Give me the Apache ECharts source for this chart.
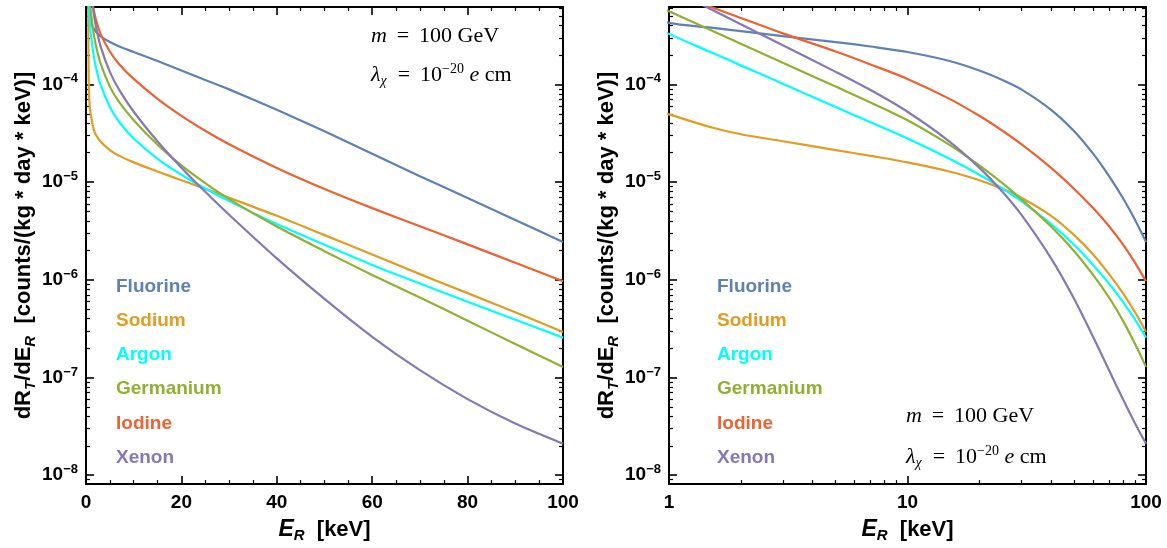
<!DOCTYPE html>
<html>
<head>
<meta charset="utf-8">
<script src="https://cdn.jsdelivr.net/npm/echarts@6/dist/echarts.min.js"></script>
<style>html,body{margin:0;padding:0;background:#fff}#c{width:1167px;height:548px}</style>
</head>
<body>
<div id="c"></div>
<script>
// ---------------- data (recoil energy in keV, rate in counts/(kg*day*keV)) ----------------
const energies = [0.4, 0.5, 0.6, 0.8, 1, 1.5, 2, 3, 5, 7, 10, 15, 20, 25, 30, 40, 50, 60, 70, 80, 90, 100];
const fluorine  = [1.89e-3, 1.18e-3, 7.37e-4, 5.18e-4, 4.262e-4, 3.816e-4, 3.515e-4, 3.125e-4, 2.714e-4, 2.442e-4, 2.146e-4, 1.737e-4, 1.389e-4, 1.111e-4, 8.893e-5, 5.491e-5, 3.314e-5, 1.953e-5, 1.151e-5, 6.866e-6, 4.095e-6, 2.442e-6];
const sodium    = [3.02e-3, 3.24e-4, 8.89e-5, 5.82e-5, 4.94e-5, 3.64e-5, 3.09e-5, 2.621e-5, 2.127e-5, 1.855e-5, 1.592e-5, 1.283e-5, 1.045e-5, 8.523e-6, 6.915e-6, 4.520e-6, 2.865e-6, 1.816e-6, 1.143e-6, 7.299e-7, 4.647e-7, 2.926e-7];
const argon     = [1.886e-3, 9.32e-4, 6.551e-4, 4.394e-4, 3.291e-4, 2.131e-4, 1.566e-4, 1.014e-4, 5.867e-5, 4.095e-5, 2.792e-5, 1.733e-5, 1.190e-5, 8.604e-6, 6.384e-6, 3.718e-6, 2.282e-6, 1.419e-6, 9.146e-7, 5.950e-7, 3.906e-7, 2.559e-7];
const germanium = [1.537e-3, 1.201e-3, 9.837e-4, 7.164e-4, 5.597e-4, 3.582e-4, 2.608e-4, 1.669e-4, 9.496e-5, 6.535e-5, 4.301e-5, 2.408e-5, 1.484e-5, 9.745e-6, 6.691e-6, 3.506e-6, 1.963e-6, 1.122e-6, 6.583e-7, 3.816e-7, 2.197e-7, 1.283e-7];
const iodine    = [2.023e-3, 1.665e-3, 1.413e-3, 1.091e-3, 8.933e-4, 6.206e-4, 4.793e-4, 3.330e-4, 2.172e-4, 1.600e-4, 1.138e-4, 7.113e-5, 4.770e-5, 3.353e-5, 2.442e-5, 1.396e-5, 8.503e-6, 5.415e-6, 3.531e-6, 2.303e-6, 1.491e-6, 9.654e-7];
const xenon     = [2.945e-3, 2.249e-3, 1.799e-3, 1.265e-3, 9.631e-4, 5.868e-4, 4.124e-4, 2.512e-4, 1.344e-4, 8.748e-5, 5.252e-5, 2.602e-5, 1.406e-5, 7.961e-6, 4.638e-6, 1.657e-6, 6.370e-7, 2.608e-7, 1.187e-7, 6.006e-8, 3.378e-8, 2.101e-8];

const elementNames = ['Fluorine', 'Sodium', 'Argon', 'Germanium', 'Iodine', 'Xenon'];
const elementData  = [fluorine, sodium, argon, germanium, iodine, xenon];
const elementColors = ['#5E81B5', '#E19C24', '#00FFFF', '#8FB032', '#EB6235', '#8778B3'];

// ---------------- ticks ----------------
const yMajorTicks = [1e-8, 1e-7, 1e-6, 1e-5, 1e-4];
const yMinorMantissas = [2, 3, 4, 5, 6, 7, 8, 9];
const yDecades = [1e-9, 1e-8, 1e-7, 1e-6, 1e-5, 1e-4];
const xLinTicks = [0, 20, 40, 60, 80, 100];
const xLogMajorTicks = [1, 10, 100];
const xLogMinorTicks = [2, 3, 4, 5, 6, 7, 8, 9, 20, 30, 40, 50, 60, 70, 80, 90];

const Y_MIN = 8.1e-9, Y_MAX = 6.2e-4;
const yMinorTicks = [];
yDecades.forEach(d => yMinorMantissas.forEach(m => {
  const v = m * d;
  if (v > Y_MIN && v < Y_MAX) yMinorTicks.push(v);
}));

const FONT = "'Liberation Sans', Arial, Helvetica, sans-serif";
const SERIF = "'Liberation Serif', 'Times New Roman', Times, serif";
const BLACK = '#000';

// ---------------- axes ----------------
function yAxisDef(grid, pos, major, withLabel, withName) {
  return {
    type: 'log', logBase: 10, gridIndex: grid, position: pos, min: Y_MIN, max: Y_MAX,
    axisLine: { show: major, onZero: false, lineStyle: { color: BLACK, width: 2 } },
    axisTick: { show: true, inside: true, length: major ? 8 : 4,
      customValues: major ? yMajorTicks : yMinorTicks,
      lineStyle: { color: BLACK, width: major ? 1.6 : 1.2 } },
    minorTick: { show: false },
    splitLine: { show: false },
    axisLabel: {
      show: withLabel, customValues: yMajorTicks, margin: 8,
      formatter: v => {
        const e = Math.round(Math.log10(v));
        return '{b|10}{s|' + (e < 0 ? '\u2212' : '') + Math.abs(e) + '}';
      },
      rich: {
        b: { fontSize: 19, fontWeight: 'bold', fontFamily: FONT, color: BLACK, lineHeight: 24 },
        s: { fontSize: 13, fontWeight: 'bold', fontFamily: FONT, color: BLACK, lineHeight: 13, verticalAlign: 'top' }
      }
    },
    name: withName ? 'dR{sub|T}/dE{sub|R}  [counts/(kg * day * keV)]' : '',
    nameLocation: 'middle', nameRotate: 90, nameGap: 42,
    nameTextStyle: {
      fontSize: 22, fontWeight: 'bold', fontFamily: FONT, color: BLACK, lineHeight: 28,
      rich: { sub: { fontSize: 15, fontWeight: 'bold', fontStyle: 'italic', fontFamily: FONT, color: BLACK, lineHeight: 15, verticalAlign: 'bottom' } }
    }
  };
}

const xNameStyle = {
  fontSize: 22, fontWeight: 'bold', fontFamily: FONT, color: BLACK, lineHeight: 26,
  rich: {
    e: { fontSize: 23, fontWeight: 'bold', fontStyle: 'italic', fontFamily: FONT, color: BLACK, lineHeight: 26 },
    r: { fontSize: 15, fontWeight: 'bold', fontStyle: 'italic', fontFamily: FONT, color: BLACK, lineHeight: 15, verticalAlign: 'bottom' }
  }
};
const xName = '{e|E}{r|R}  [keV]';
const xLabelStyle = { fontSize: 19, fontWeight: 'bold', fontFamily: FONT, color: BLACK, margin: 9 };

function xLinDef(pos, withLabel) {
  return {
    type: 'value', gridIndex: 0, position: pos, min: xLinTicks[0], max: xLinTicks[xLinTicks.length - 1], interval: 20,
    axisLine: { show: true, onZero: false, lineStyle: { color: BLACK, width: 2 } },
    axisTick: { show: true, inside: true, length: 8, lineStyle: { color: BLACK, width: 1.6 } },
    minorTick: { show: true, splitNumber: 4, length: 4, lineStyle: { color: BLACK, width: 1.2 } },
    splitLine: { show: false }, minorSplitLine: { show: false },
    axisLabel: Object.assign({ show: withLabel }, xLabelStyle),
    name: withLabel ? xName : '', nameLocation: 'middle', nameGap: 32, nameTextStyle: xNameStyle
  };
}
function xLogDef(pos, major, withLabel) {
  return {
    type: 'log', logBase: 10, gridIndex: 1, position: pos, min: 1, max: 100,
    axisLine: { show: major, onZero: false, lineStyle: { color: BLACK, width: 2 } },
    axisTick: { show: true, inside: true, length: major ? 8 : 4,
      customValues: major ? xLogMajorTicks : xLogMinorTicks,
      lineStyle: { color: BLACK, width: major ? 1.6 : 1.2 } },
    minorTick: { show: false }, splitLine: { show: false },
    axisLabel: Object.assign({ show: withLabel, customValues: xLogMajorTicks, formatter: v => String(Math.round(v)) }, xLabelStyle),
    name: withLabel ? xName : '', nameLocation: 'middle', nameGap: 32, nameTextStyle: xNameStyle
  };
}

const xAxes = [
  xLinDef('bottom', true),            // 0 left panel
  xLinDef('top', false),              // 1
  xLogDef('bottom', true, true),      // 2 right panel
  xLogDef('bottom', false, false),    // 3
  xLogDef('top', true, false),        // 4
  xLogDef('top', false, false)        // 5
];
const yAxes = [
  yAxisDef(0, 'left', true, true, true),   // 0
  yAxisDef(0, 'left', false, false, false),
  yAxisDef(0, 'right', true, false, false),
  yAxisDef(0, 'right', false, false, false),
  yAxisDef(1, 'left', true, true, true),   // 4
  yAxisDef(1, 'left', false, false, false),
  yAxisDef(1, 'right', true, false, false),
  yAxisDef(1, 'right', false, false, false)
];

// ---------------- series ----------------
const series = [];
[[0, 0], [2, 4]].forEach(([xi, yi]) => {
  elementNames.forEach((name, k) => {
    series.push({
      type: 'line', name: name, xAxisIndex: xi, yAxisIndex: yi,
      data: energies.map((e, i) => [e, elementData[k][i]]),
      showSymbol: false, smooth: 0.3, clip: true,
      lineStyle: { color: elementColors[k], width: 2.2 },
      itemStyle: { color: elementColors[k] },
      emphasis: { disabled: true }, animation: false
    });
  });
});

function legendDef(left) {
  return {
    orient: 'vertical', left: left, top: 271.5, icon: 'none', itemWidth: 0, itemHeight: 20, itemGap: 14.2,
    selectedMode: false,
    textStyle: { fontSize: 19, fontWeight: 'bold', fontFamily: FONT, lineHeight: 20 },
    data: elementNames.map((n, k) => ({ name: n, textStyle: { color: elementColors[k] } }))
  };
}

const annRich = {
  i: { fontStyle: 'italic', fontSize: 22, fontFamily: SERIF, fill: BLACK, lineHeight: 26 },
  sub: { fontStyle: 'italic', fontSize: 14, fontFamily: SERIF, fill: BLACK, lineHeight: 14, verticalAlign: 'bottom' },
  sup: { fontSize: 14, fontFamily: SERIF, fill: BLACK, lineHeight: 14, verticalAlign: 'top' }
};
function annotation(x, y1, y2) {
  return [
    { type: 'text', x: x, y: y1, silent: true,
      style: { text: '{i|m}\u2009 = \u2009100 GeV', fontSize: 22, fontFamily: SERIF, fill: BLACK, lineHeight: 26,
               verticalAlign: 'middle', align: 'left', rich: annRich } },
    { type: 'text', x: x, y: y2, silent: true,
      style: { text: '{i|\u03BB}{sub|\u03C7}  = \u200910{sup|\u221220} {i|e} cm', fontSize: 22, fontFamily: SERIF, fill: BLACK, lineHeight: 26,
               verticalAlign: 'middle', align: 'left', rich: annRich } }
  ];
}

const option = {
  backgroundColor: '#fff',
  animation: false,
  grid: [
    { left: 86, top: 7, width: 477, height: 478 },
    { left: 669, top: 7, width: 477, height: 478 }
  ],
  xAxis: xAxes,
  yAxis: yAxes,
  legend: [legendDef(106), legendDef(707)],
  graphic: annotation(371, 36.5, 75).concat(annotation(906, 416, 457)),
  series: series
};

const chart = echarts.init(document.getElementById('c'), null, { renderer: 'canvas' });
chart.setOption(option);
</script>
</body>
</html>
